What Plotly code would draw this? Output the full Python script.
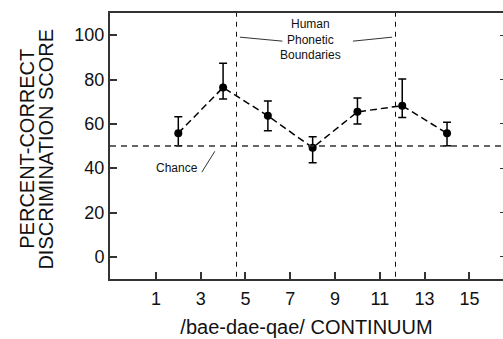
import plotly.graph_objects as go

# Data
stimulus = [2, 4, 6, 8, 10, 12, 14]
score = [55.8, 76.4, 63.6, 49.2, 65.4, 68.2, 55.7]
err_upper = [63.2, 87.3, 70.3, 54.2, 71.6, 80.2, 60.7]
err_lower = [50.1, 71.2, 56.9, 42.4, 59.9, 62.9, 50.1]
chance_level = 50
boundaries = [4.6, 11.7]
x_ticks = [1, 3, 5, 7, 9, 11, 13, 15]
y_ticks = [0, 20, 40, 60, 80, 100]

X_RANGE = [-1.05, 16.5]
Y_RANGE = [-10, 110]
FONT = "Liberation Sans, Arial, Helvetica, sans-serif"

plus = [u - m for u, m in zip(err_upper, score)]
minus = [m - l for m, l in zip(score, err_lower)]

fig = go.Figure()

# chance line (on overlaid y2, same range)
fig.add_trace(go.Scatter(
    x=X_RANGE, y=[chance_level, chance_level], yaxis="y2",
    mode="lines", line=dict(color="#333", width=1.5, dash="6px,5px"),
    hoverinfo="skip", showlegend=False))

fig.add_trace(go.Scatter(
    x=stimulus, y=score, mode="lines+markers",
    line=dict(color="black", width=1.5, dash="7px,4px"),
    marker=dict(color="black", size=8),
    error_y=dict(type="data", symmetric=False, array=plus, arrayminus=minus,
                 color="black", thickness=1.5, width=4),
    showlegend=False))

for b in boundaries:
    fig.add_shape(type="line", xref="x", yref="y", x0=b, x1=b, y0=-9, y1=Y_RANGE[1],
                  line=dict(color="#111", width=1, dash="5px,5px"))

# leader lines for "Human Phonetic Boundaries"
fig.add_shape(type="line", xref="x", yref="y", x0=boundaries[0] + 0.15, x1=6.65, y0=99.1, y1=97.3,
              line=dict(color="#333", width=1))
fig.add_shape(type="line", xref="x", yref="y", x0=9.8, x1=boundaries[1] - 0.15, y0=97.3, y1=99.1,
              line=dict(color="#333", width=1))
fig.add_annotation(x=7.9, y=98.2, xref="x", yref="y", text="Human<br>Phonetic<br>Boundaries",
                   showarrow=False, font=dict(family=FONT, size=12, color="#111"))

# Chance label + leader
fig.add_shape(type="line", xref="x", yref="y", x0=3.05, x1=3.63, y0=38.2, y1=47.6,
              line=dict(color="#333", width=1))
fig.add_annotation(x=1.94, y=40, xref="x", yref="y", text="Chance",
                   showarrow=False, font=dict(family=FONT, size=12, color="#111"))

# y-axis title (two lines)
fig.add_annotation(x=-0.211, y=0.49, xref="paper", yref="paper", text="PERCENT-CORRECT",
                   xanchor="center", yanchor="middle",
                   textangle=-90, showarrow=False, font=dict(family=FONT, size=20, color="#111"))
fig.add_annotation(x=-0.163, y=0.49, xref="paper", yref="paper", text="DISCRIMINATION SCORE",
                   xanchor="center", yanchor="middle",
                   textangle=-90, showarrow=False, font=dict(family=FONT, size=20, color="#111"))

fig.update_layout(
    width=503, height=339,
    margin=dict(l=110, r=0, t=13, b=60),
    paper_bgcolor="white", plot_bgcolor="white",
    font=dict(family=FONT, size=18, color="#111"),
    xaxis=dict(range=X_RANGE, tickvals=x_ticks, ticks="inside", ticklen=7, tickwidth=1.5,
               tickcolor="#333", showline=True, linecolor="#333", linewidth=2, mirror=True,
               showgrid=False, zeroline=False, ticklabelstandoff=2,
               title=dict(text="/bae-dae-qae/ CONTINUUM", font=dict(size=20), standoff=12)),
    yaxis=dict(range=Y_RANGE, tickvals=y_ticks, ticks="inside", ticklen=7, tickwidth=1.5,
               tickcolor="#333", showline=True, linecolor="#333", linewidth=2,
               showgrid=False, zeroline=False, ticklabelstandoff=0),
    yaxis2=dict(range=Y_RANGE, tickvals=y_ticks, overlaying="y", side="right", anchor="x",
                ticks="inside", ticklen=3, tickwidth=1, tickcolor="#333",
                showticklabels=False, showline=False, showgrid=False, zeroline=False),
)

fig.write_html("out.html")
